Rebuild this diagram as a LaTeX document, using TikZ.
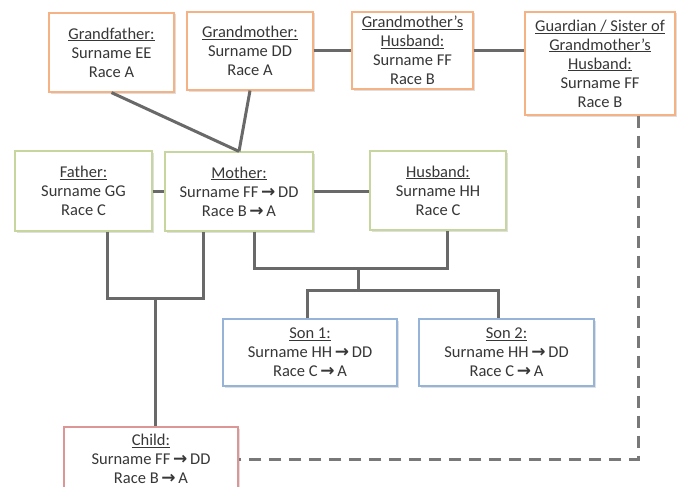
\documentclass[tikz,border=0pt]{standalone}
\usepackage{fontspec}
\setmainfont{Carlito}
\newfontfamily\arrowfont{DejaVu Sans}
\usetikzlibrary{shadows}
\definecolor{orb}{RGB}{245,178,132}
\definecolor{grb}{RGB}{198,214,158}
\definecolor{blb}{RGB}{150,180,215}
\definecolor{rdb}{RGB}{220,150,150}
\definecolor{txt}{RGB}{55,55,55}
\definecolor{lin}{RGB}{105,105,105}
\newcommand{\myarr}{\,{\arrowfont\bfseries\fontsize{17}{19}\selectfont →}\,}
\begin{document}
\begin{tikzpicture}[x=1pt,y=-1pt,
  boxbase/.style={draw, fill=white, line width=1.2pt, align=center, text=txt,
    font=\fontsize{16.5}{19}\selectfont, inner sep=0pt,
    drop shadow={shadow xshift=1.5pt, shadow yshift=-1.5pt, opacity=0.25, fill=black!50}},
  obox/.style={boxbase, draw=orb},
  gbox/.style={boxbase, draw=grb},
  bbox/.style={boxbase, draw=blb},
  rbox/.style={boxbase, draw=rdb},
  famline/.style={draw=lin, line width=3pt},
  dashline/.style={draw=lin!90, line width=3pt, dash pattern=on 12pt off 8pt}]
\useasboundingbox (0,0) rectangle (677,487);
\clip (0,0) rectangle (677,487);
\fill[white] (0,0) rectangle (677,487);

% nodes
\node[obox, minimum width=125pt, minimum height=79pt] (gf) at (111.5,52.5)
  {\underline{Grandfather:}\\Surname EE\\Race A};
\node[obox, minimum width=126pt, minimum height=78pt] (gm) at (250,51)
  {\underline{Grandmother:}\\Surname DD\\Race A};
\node[obox, minimum width=121pt, minimum height=77pt] (gmh) at (412.5,50.5)
  {\underline{Grandmother's}\\\underline{Husband:}\\Surname FF\\Race B};
\node[obox, minimum width=150pt, minimum height=103pt] (gd) at (600,63.5)
  {\underline{Guardian / Sister of}\\\underline{Grandmother's}\\\underline{Husband:}\\Surname FF\\Race B};
\node[gbox, minimum width=137pt, minimum height=80pt] (fa) at (83.5,191)
  {\underline{Father:}\\Surname GG\\Race C};
\node[gbox, minimum width=148pt, minimum height=79pt] (mo) at (239,191.5)
  {\underline{Mother:}\\Surname FF\myarr DD\\Race B\myarr A};
\node[gbox, minimum width=136pt, minimum height=79pt] (hu) at (438,190.5)
  {\underline{Husband:}\\Surname HH\\Race C};
\node[bbox, minimum width=174pt, minimum height=67pt] (so1) at (310,352.5)
  {\underline{Son 1:}\\Surname HH\myarr DD\\Race C\myarr A};
\node[bbox, minimum width=175pt, minimum height=67pt] (so2) at (506.5,352.5)
  {\underline{Son 2:}\\Surname HH\myarr DD\\Race C\myarr A};
\node[rbox, minimum width=174pt, minimum height=64pt] (ch) at (151,459)
  {\underline{Child:}\\Surname FF\myarr DD\\Race B\myarr A};

% helper coordinates
\coordinate (fb) at (107,0);
\coordinate (mb1) at (203,0);
\coordinate (mb2) at (254,0);
\coordinate (hb) at (447,0);
\coordinate (j1) at (155,298);
\coordinate (j2) at (358,268);
\coordinate (j3) at (358,290);
\coordinate (s1t) at (307,0);
\coordinate (s2t) at (498,0);
\coordinate (gb) at (638,0);

% connectors
\draw[famline] (gm.east) -- (gm.east -| gmh.west);
\draw[famline] (gmh.east) -- (gmh.east -| gd.west);
\draw[famline] (gf.south) -- (mo.north);
\draw[famline] (gm.south) -- (mo.north);
\draw[famline] (fa.east) -- (fa.east -| mo.west);
\draw[famline] (mo.east) -- (mo.east -| hu.west);
\draw[famline] (fa.south -| fb) |- (j1) -| (mo.south -| mb1);
\draw[famline] (j1) -- (j1 |- ch.north);
\draw[famline] (mo.south -| mb2) |- (j2) -| (hu.south -| hb);
\draw[famline] (j2) -- (j3);
\draw[famline] (so1.north -| s1t) |- (j3) -| (so2.north -| s2t);
\draw[dashline] (gd.south -| gb) |- (ch.east);
\end{tikzpicture}
\end{document}
